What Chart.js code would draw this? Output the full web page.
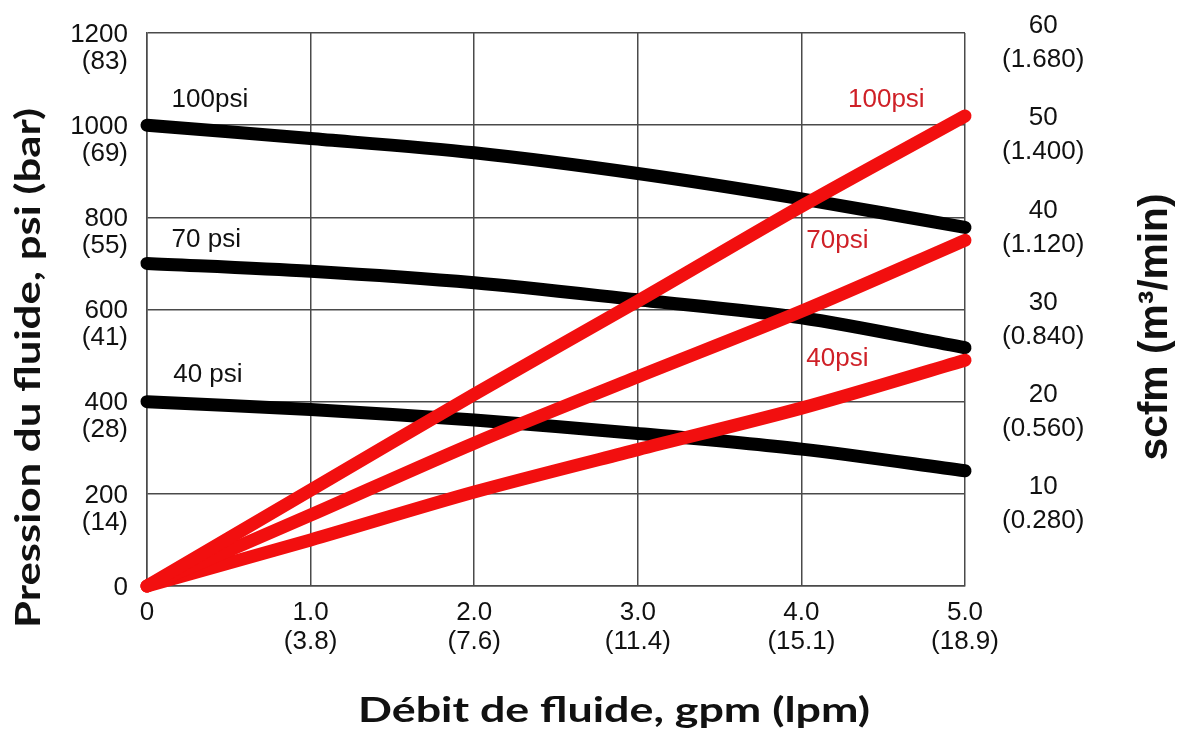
<!DOCTYPE html>
<html lang="fr">
<head>
  <meta charset="UTF-8">
  <title>Débit / Pression</title>
  <script src="https://cdn.jsdelivr.net/npm/chart.js"></script>
  <style>
    html, body {
      margin: 0;
      padding: 0;
      background: #fff;
    }
    .chart-box {
      width: 1183px;
      height: 738px;
      position: relative;
    }
  </style>
</head>
<body>
  <div class="chart-box">
    <canvas id="mainChart"></canvas>
  </div>

  <script>
    // Débit (gpm) et conversions lpm
    const gpm = [0, 1, 2, 3, 4, 5];
    const lpmLabels = ['', '(3.8)', '(7.6)', '(11.4)', '(15.1)', '(18.9)'];

    // Pression du fluide (psi), courbes noires
    const psi100 = [1000, 971, 940, 895, 840, 778];
    const psi70 = [700, 683, 658, 621, 582, 517];
    const psi40 = [400, 383, 360, 331, 297, 250];

    // Consommation d'air (scfm), courbes rouges
    const scfm100 = [0, 10.4, 20.8, 30.9, 41.2, 51.0];
    const scfm70 = [0, 7.7, 15.5, 22.7, 29.8, 37.5];
    const scfm40 = [0, 5.0, 10.2, 14.8, 19.3, 24.5];

    // Graduations
    const psiTicks = [0, 200, 400, 600, 800, 1000, 1200];
    const barLabels = ['', '(14)', '(28)', '(41)', '(55)', '(69)', '(83)'];
    const scfmTicks = [0, 10, 20, 30, 40, 50, 60];
    const m3Labels = ['', '(0.280)', '(0.560)', '(0.840)', '(1.120)', '(1.400)', '(1.680)'];

    const BLACK = '#000000';
    const RED = '#f20f0f';
    const RED_TEXT = '#cf2027';
    const GRID = '#4a4a4a';
    const tickFont = { family: "'Liberation Sans', Arial, sans-serif", size: 26 };

    function pts(ys) {
      return gpm.map((x, i) => ({ x: x, y: ys[i] }));
    }

    function lineSet(label, ys, color, axis, order) {
      return {
        label: label,
        data: pts(ys),
        yAxisID: axis,
        borderColor: color,
        borderWidth: 13,
        borderCapStyle: 'round',
        borderJoinStyle: 'round',
        pointRadius: 0,
        tension: 0.3,
        clip: false,
        order: order
      };
    }

    // pas de marge automatique autour des axes : la zone du graphe est fixée
    function noPad(s) {
      s.paddingTop = 0;
      s.paddingBottom = 0;
      s.paddingLeft = 0;
      s.paddingRight = 0;
    }

    // étiquettes des courbes (en unités des axes)
    const curveLabels = [
      { text: '100psi', x: 0.15, y: 1055, axis: 'y', color: '#111' },
      { text: '70 psi', x: 0.15, y: 751, axis: 'y', color: '#111' },
      { text: '40 psi', x: 0.16, y: 458, axis: 'y', color: '#111' },
      { text: '100psi', x: 4.285, y: 52.7, axis: 'y1', color: RED_TEXT },
      { text: '70psi', x: 4.03, y: 37.5, axis: 'y1', color: RED_TEXT },
      { text: '40psi', x: 4.03, y: 24.6, axis: 'y1', color: RED_TEXT }
    ];

    const labelPlugin = {
      id: 'curveLabels',
      afterDatasetsDraw(chart) {
        const ctx = chart.ctx;
        ctx.save();
        ctx.font = "26px 'Liberation Sans', Arial, sans-serif";
        ctx.textAlign = 'left';
        ctx.textBaseline = 'middle';
        curveLabels.forEach(l => {
          ctx.fillStyle = l.color;
          ctx.fillText(l.text,
            chart.scales.x.getPixelForValue(l.x),
            chart.scales[l.axis].getPixelForValue(l.y));
        });
        ctx.restore();
      }
    };

    // titres des axes, texte ajusté à la longueur voulue
    function fitText(ctx, text, font, x, y, rot, len) {
      ctx.save();
      ctx.font = font;
      const w = ctx.measureText(text).width;
      ctx.translate(x, y);
      ctx.rotate(rot);
      ctx.scale(len / w, 1);
      ctx.textAlign = 'center';
      ctx.textBaseline = 'alphabetic';
      ctx.fillStyle = '#111';
      ctx.fillText(text, 0, 0);
      ctx.restore();
    }

    const titlePlugin = {
      id: 'axisTitles',
      afterDraw(chart) {
        const ctx = chart.ctx;
        fitText(ctx, 'Pression du fluide, psi (bar)', "bold 34px Lato, sans-serif", 40, 368, -Math.PI / 2, 520);
        fitText(ctx, 'scfm (m³/min)', "bold 40px 'Liberation Sans', Arial, sans-serif", 1167, 327, -Math.PI / 2, 267);
        fitText(ctx, 'Débit de fluide, gpm (lpm)', "bold 34px Lato, sans-serif", 614, 722, 0, 512);
      }
    };

    const ctx = document.getElementById('mainChart').getContext('2d');
    new Chart(ctx, {
      type: 'line',
      data: {
        datasets: [
          lineSet('100psi scfm', scfm100, RED, 'y1', 1),
          lineSet('70psi scfm', scfm70, RED, 'y1', 1),
          lineSet('40psi scfm', scfm40, RED, 'y1', 1),
          lineSet('100psi', psi100, BLACK, 'y', 2),
          lineSet('70 psi', psi70, BLACK, 'y', 2),
          lineSet('40 psi', psi40, BLACK, 'y', 2)
        ]
      },
      options: {
        responsive: true,
        maintainAspectRatio: false,
        animation: false,
        layout: { padding: { top: 33, left: 0, right: 0, bottom: 0 } },
        plugins: {
          legend: { display: false },
          tooltip: { enabled: false }
        },
        scales: {
          x: {
            type: 'linear',
            min: 0,
            max: 5,
            afterFit: s => { s.height = 152; noPad(s); },
            afterBuildTicks: s => { s.ticks = gpm.map(v => ({ value: v })); },
            grid: { color: GRID, lineWidth: 1.5, drawTicks: false },
            border: { color: GRID, width: 1.5 },
            ticks: {
              font: Object.assign({ lineHeight: 29 / 26 }, tickFont),
              color: '#111',
              padding: 12,
              maxRotation: 0,
              autoSkip: false,
              callback: (v) => {
                const i = gpm.indexOf(v);
                if (v === 0) return '0';
                return [v.toFixed(1), lpmLabels[i]];
              }
            }
          },
          y: {
            position: 'left',
            min: 0,
            max: 1200,
            afterFit: s => { s.width = 147; noPad(s); },
            afterBuildTicks: s => { s.ticks = psiTicks.map(v => ({ value: v })); },
            grid: { color: GRID, lineWidth: 1.5, drawTicks: false },
            border: { color: GRID, width: 1.5 },
            ticks: {
              font: Object.assign({ lineHeight: 27 / 26 }, tickFont),
              color: '#111',
              padding: 19,
              labelOffset: 15,
              autoSkip: false,
              callback: (v) => [String(v), barLabels[psiTicks.indexOf(v)]]
            }
          },
          y1: {
            position: 'right',
            min: 0,
            max: 60,
            afterFit: s => { s.width = 218; noPad(s); },
            afterBuildTicks: s => { s.ticks = scfmTicks.map(v => ({ value: v })); },
            grid: { display: false, drawTicks: false },
            border: { display: false },
            ticks: {
              font: Object.assign({ lineHeight: 34 / 26 }, tickFont),
              color: '#111',
              padding: 37,
              crossAlign: 'center',
              labelOffset: 10,
              autoSkip: false,
              callback: (v) => v === 0 ? '' : [String(v), m3Labels[scfmTicks.indexOf(v)]]
            }
          }
        }
      },
      plugins: [labelPlugin, titlePlugin]
    });
  </script>
</body>
</html>
